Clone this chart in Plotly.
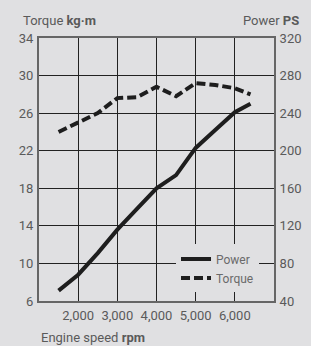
import plotly.graph_objects as go

rpm_power = [1500, 2000, 2500, 3000, 3500, 4000, 4500, 5000, 5500, 6000, 6400]
power_ps = [51, 68, 91, 116, 138, 160, 174, 203, 222, 241, 250]

rpm_torque = [1500, 2000, 2500, 3000, 3500, 4000, 4500, 5000, 5500, 6000, 6400]
torque_kgm = [24.0, 25.0, 26.0, 27.6, 27.7, 28.8, 27.8, 29.2, 29.0, 28.65, 28.0]

x_ticks = [2000, 3000, 4000, 5000, 6000]
x_ticktext = ["2,000", "3,000", "4,000", "5,000", "6,000"]
left_ticks = [6, 10, 14, 18, 22, 26, 30, 34]
right_ticks = [40, 80, 120, 160, 200, 240, 280, 320]

BG = "#e0e0e2"
TXT = "#5a5a5a"
FONT = "Roboto"

fig = go.Figure()
fig.add_trace(go.Scatter(x=rpm_power, y=power_ps, name="Power", yaxis="y2",
                         mode="lines", line=dict(color="#1e1e1e", width=4)))
fig.add_trace(go.Scatter(x=rpm_torque, y=torque_kgm, name="Torque", yaxis="y",
                         mode="lines", line=dict(color="#1e1e1e", width=4, dash="9px,4px")))

axis_common = dict(showline=True, mirror=True, linecolor="#666666", linewidth=2,
                   zeroline=False, automargin=False,
                   tickfont=dict(family=FONT, size=13, color=TXT),
                   ticks="outside", ticklen=1, tickcolor=BG)

fig.update_layout(
    width=311, height=346,
    margin=dict(l=39, r=37, t=38, b=45, autoexpand=False),
    paper_bgcolor=BG, plot_bgcolor=BG,
    font=dict(family=FONT, size=13, color=TXT),
    xaxis=dict(range=[1000, 7000], tickvals=x_ticks, ticktext=x_ticktext,
               gridcolor="#222222", gridwidth=1, **axis_common),
    yaxis=dict(range=[6, 34], tickvals=left_ticks,
               gridcolor="#222222", gridwidth=1, **axis_common),
    yaxis2=dict(range=[40, 320], tickvals=right_ticks, overlaying="y", side="right",
                showgrid=False, **axis_common),
    legend=dict(x=0.583, y=0.215, xanchor="left", yanchor="top",
                bgcolor=BG, borderwidth=0, font=dict(family=FONT, size=12, color="#6a6a6a"),
                itemwidth=30, tracegroupgap=0),
    showlegend=True,
    annotations=[
        dict(text="Torque <b>kg·m</b>", xref="paper", yref="paper", x=0, y=1,
             xshift=-18, yshift=8, xanchor="left", yanchor="bottom", showarrow=False,
             font=dict(family=FONT, size=13, color=TXT)),
        dict(text="Power <b>PS</b>", xref="paper", yref="paper", x=1, y=1,
             xshift=27, yshift=8, xanchor="right", yanchor="bottom", showarrow=False,
             font=dict(family=FONT, size=13, color=TXT)),
        dict(text="Engine speed <b>rpm</b>", xref="paper", yref="paper", x=0, y=0,
             xshift=0, yshift=-27, xanchor="left", yanchor="top", showarrow=False,
             font=dict(family=FONT, size=13, color=TXT)),
    ],
)

fig.write_html("out.html", config={"displayModeBar": False},
               post_script="document.body.style.margin='0';document.body.style.background='%s';" % BG)
